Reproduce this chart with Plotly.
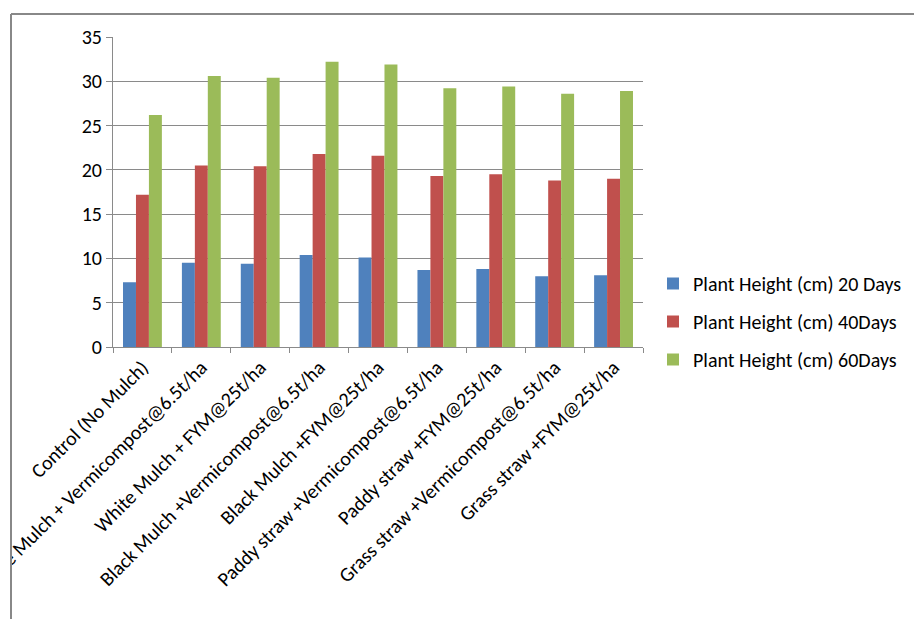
import plotly.graph_objects as go

categories = [
    "Control (No Mulch)",
    "White Mulch + Vermicompost@6.5t/ha",
    "White Mulch + FYM@25t/ha",
    "Black Mulch +Vermicompost@6.5t/ha",
    "Black Mulch +FYM@25t/ha",
    "Paddy straw +Vermicompost@6.5t/ha",
    "Paddy straw +FYM@25t/ha",
    "Grass straw +Vermicompost@6.5t/ha",
    "Grass straw +FYM@25t/ha",
]
height_20 = [7.3, 9.5, 9.4, 10.4, 10.1, 8.7, 8.8, 8.0, 8.1]
height_40 = [17.2, 20.5, 20.4, 21.8, 21.6, 19.3, 19.5, 18.8, 19.0]
height_60 = [26.2, 30.6, 30.4, 32.2, 31.9, 29.2, 29.4, 28.6, 28.9]
series_names = [
    "Plant Height (cm) 20 Days",
    "Plant Height (cm) 40Days",
    "Plant Height (cm) 60Days",
]
colors = ["#4F81BD", "#C0504D", "#9BBB59"]
y_ticks = [0, 5, 10, 15, 20, 25, 30, 35]

FONT = "Carlito, Calibri, Lato, sans-serif"
GRAY = "#8a8a8a"
FS = 20

fig = go.Figure()
for name, vals, col, grp in zip(series_names, [height_20, height_40, height_60], colors, ["a", "b", "c"]):
    fig.add_trace(go.Bar(x=categories, y=vals, name=name, marker_color=col,
                         marker_line_width=0, legendgroup=grp))

W, H = 915, 619
L, R, T, B = 113, 272, 37, 272
pw, ph = W - L - R, H - T - B

def px(x):
    return (x - L) / pw

def py(y):
    return (H - B - y) / ph

fig.update_layout(
    width=W, height=H,
    margin=dict(l=L, r=R, t=T, b=B, autoexpand=False),
    paper_bgcolor="white", plot_bgcolor="white",
    barmode="group", bargap=0.34, bargroupgap=0,
    font=dict(family=FONT, size=FS, color="#000000"),
    showlegend=True,
    legend=dict(x=px(653), y=py(264), xanchor="left", yanchor="top",
                font=dict(family=FONT, size=FS, color="#000000"),
                tracegroupgap=9, itemwidth=30, bgcolor="rgba(0,0,0,0)"),
    xaxis=dict(showline=True, linecolor=GRAY, linewidth=1, ticks="outside",
               tickson="boundaries", ticklen=5, tickcolor=GRAY, tickangle=-45,
               showgrid=False, tickfont=dict(family=FONT, size=FS, color="#000000")),
    yaxis=dict(range=[0, 35], tickvals=y_ticks, showline=True, linecolor=GRAY,
               linewidth=1, ticks="outside", ticklen=6, tickcolor=GRAY,
               ticksuffix="\u00a0\u00a0",
               showgrid=True, gridcolor=GRAY, gridwidth=1, zeroline=False,
               tickfont=dict(family=FONT, size=FS, color="#000000")),
    shapes=[
        dict(type="rect", xref="paper", yref="paper", x0=px(-5), x1=px(11),
             y0=py(H + 5), y1=py(-5), fillcolor="white", line_width=0, layer="above"),
        dict(type="line", xref="paper", yref="paper", x0=px(11), x1=px(11),
             y0=py(H + 5), y1=py(14), line=dict(color="#888888", width=2), layer="above"),
        dict(type="line", xref="paper", yref="paper", x0=px(11), x1=px(914),
             y0=py(14), y1=py(14), line=dict(color="#888888", width=2), layer="above"),
    ],
)

fig.write_html("out.html")
